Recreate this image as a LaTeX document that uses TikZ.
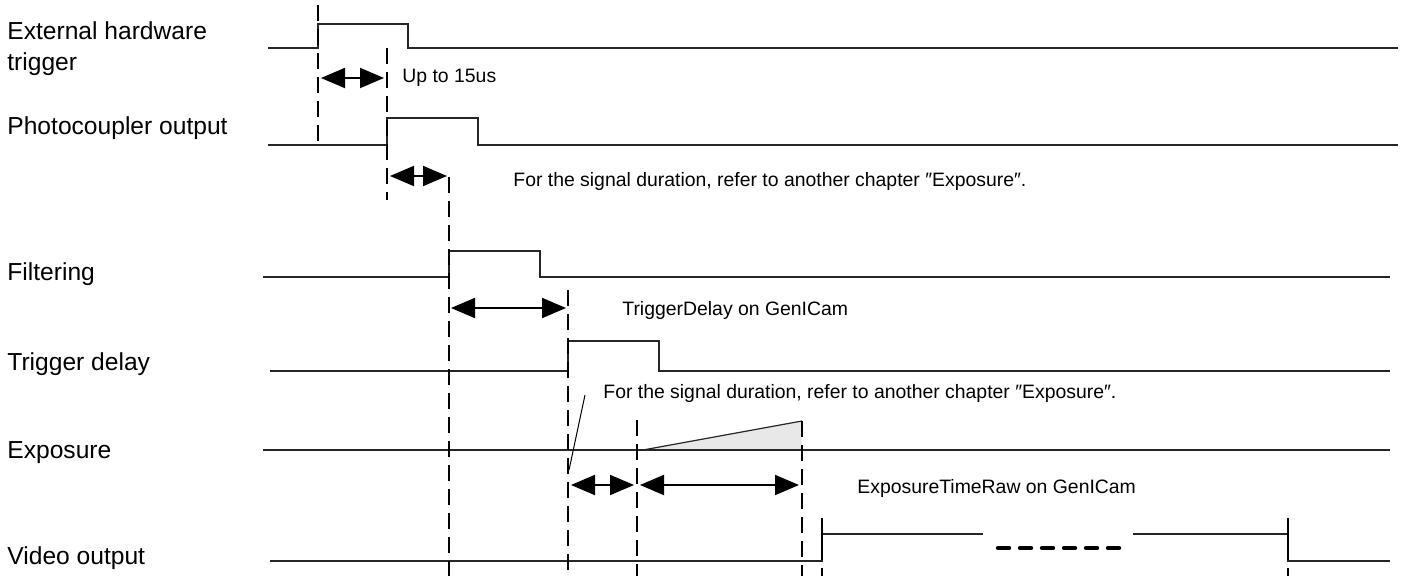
\documentclass[tikz,border=0pt]{standalone}
\usepackage{fontspec}
\setmainfont{Liberation Sans}
\usetikzlibrary{arrows.meta}
\tikzset{
  sig/.style={line width=0.6pt, black!85},
  timemark/.style={line width=1pt, dash pattern=on 8pt off 4pt},
  dur/.style={line width=1pt, {Triangle[length=12pt,width=10pt]}-{Triangle[length=12pt,width=10pt]}},
  lbl/.style={anchor=north west, inner sep=0pt, align=left, font=\fontsize{12.3}{15.5}\selectfont},
  note/.style={anchor=west, inner sep=0pt, font=\fontsize{9.7}{11}\selectfont},
}
\begin{document}
\begin{tikzpicture}[x=0.5pt,y=-0.5pt]
\useasboundingbox (0,0) rectangle (1405,576);
% Namen der Signale
\node[lbl] (ext) at (7,21) {External hardware\\trigger};
\node[lbl] (photo) at (7,116) {Photocoupler output};
\node[lbl] (filt) at (7,262) {Filtering};
\node[lbl] (tdel) at (7,352) {Trigger delay};
\node[lbl] (expo) at (7,441) {Exposure};
\node[lbl] (video) at (7,546) {Video output};
% Signale
\draw[sig] (268,48) -- (318,48) -- (318,24) -- (408,24) -- (408,48) -- (1398,48);
\draw[sig] (268,145) -- (387,145) -- (387,118) -- (478,118) -- (478,145) -- (1398,145);
\draw[sig] (263,277) -- (449,277) -- (449,251) -- (540,251) -- (540,277) -- (1390,277);
\draw[sig] (270,371) -- (568,371) -- (568,341) -- (659,341) -- (659,371) -- (1390,371);
\fill[gray!18] (643,450) -- (802,421) -- (802,450) -- cycle;
\draw[sig] (643,450) -- (802,421);
\draw[sig] (263,450) -- (1390,450);
\draw[sig] (270,561) -- (822,561) -- (822,534) -- (983,534);
\draw[sig] (1133,534) -- (1288,534) -- (1288,561) -- (1390,561);
\draw[line width=2.2pt, line cap=round, dash pattern=on 5.5pt off 5.5pt] (998,548) -- (1120,548);
% Zeitmarken
\draw[timemark] (318,5) -- (318,145);
\draw[timemark] (387,48) -- (387,200);
\draw[timemark] (449,177) -- (449,576);
\draw[timemark] (568,290) -- (568,576);
\draw[timemark] (637,420) -- (637,576);
\draw[timemark] (802,421) -- (802,576);
\draw[line width=1pt] (822,518) -- (822,560);
\draw[line width=1pt] (822,568) -- (822,576);
\draw[line width=1pt] (1288,518) -- (1288,560);
\draw[line width=1pt] (1288,568) -- (1288,576);
% Pfeile
\coordinate (u1) at (321,78);
\coordinate (u2) at (384,78);
\draw[dur] (u1) -- (u2);
\coordinate (p1) at (390,176);
\coordinate (p2) at (447,176);
\draw[dur] (p1) -- (p2);
\coordinate (f1) at (451,308);
\coordinate (f2) at (566,308);
\draw[dur] (f1) -- (f2);
\coordinate (e1) at (571,485);
\coordinate (e2) at (634,485);
\draw[dur] (e1) -- (e2);
\coordinate (e3) at (640,485);
\coordinate (e4) at (799,485);
\draw[dur] (e3) -- (e4);
% Texte
\node[note] (upto) at (402,78) {Up to 15us};
\node[note] (dur1) at (513,181) {For the signal duration, refer to another chapter ″Exposure″.};
\node[note] (tdgen) at (622,310) {TriggerDelay on GenICam};
\node[note] (dur2) at (603,393) {For the signal duration, refer to another chapter ″Exposure″.};
\node[note] (exgen) at (857,488) {ExposureTimeRaw on GenICam};
\coordinate (lead) at (569,470);
\draw[line width=0.5pt] (dur2.west) ++(-18,2) -- (lead);
\end{tikzpicture}
\end{document}
